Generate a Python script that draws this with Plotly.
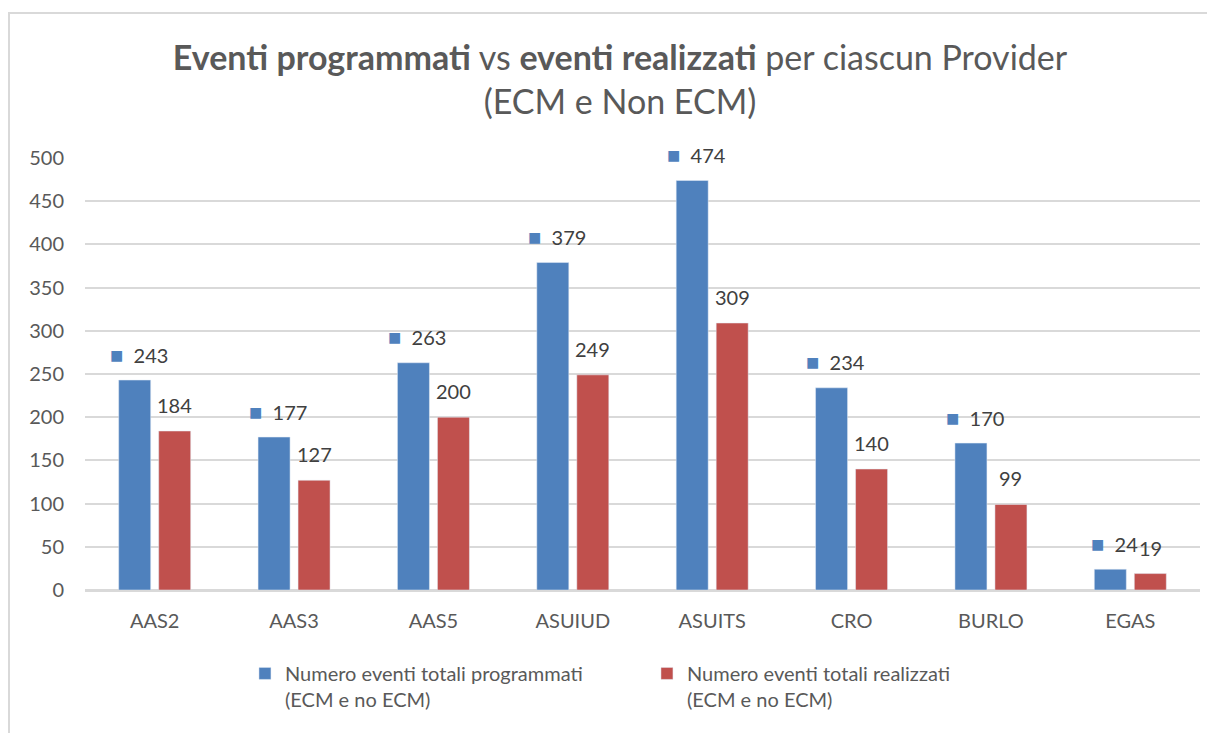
import plotly.graph_objects as go

categories = ["AAS2", "AAS3", "AAS5", "ASUIUD", "ASUITS", "CRO", "BURLO", "EGAS"]
programmati = [243, 177, 263, 379, 474, 234, 170, 24]
realizzati = [184, 127, 200, 249, 309, 140, 99, 19]
y_ticks = [0, 50, 100, 150, 200, 250, 300, 350, 400, 450, 500]

name_prog = "Numero eventi totali programmati<br>(ECM e no ECM)"
name_real = "Numero eventi totali realizzati<br>(ECM e no ECM)"
title_text = ("<b>Eventi programmati</b> vs <b>eventi realizzati</b> per ciascun Provider"
              "<br>(ECM e Non ECM)")

BLUE = "#4F81BD"
RED = "#C0504D"
FONT = "Lato"

# page offset of the figure (body margin) and desired page geometry
OFF = 8
L, R, T, B = 85 - OFF, 1215 - (1200 - OFF), 158 - OFF, 733 - (590 - OFF)
PW, PH = 1215 - L - R, 733 - T - B

fig = go.Figure()
fig.add_trace(go.Bar(x=categories, y=programmati, name=name_prog, marker_color=BLUE))
fig.add_trace(go.Bar(x=categories, y=realizzati, name=name_real, marker_color=RED))

# data labels
for c, v in zip(categories, programmati):
    fig.add_annotation(
        x=c, y=v, xref="x", yref="y", showarrow=False,
        text=f"<span style='color:{BLUE};font-size:22px'>■</span>&nbsp;&nbsp;{v}",
        font=dict(family=FONT, size=20, color="#404040"),
        xshift=-20 + 4, yshift=26,
    )
for c, v in zip(categories, realizzati):
    fig.add_annotation(
        x=c, y=v, xref="x", yref="y", showarrow=False,
        text=f"{v}",
        font=dict(family=FONT, size=20, color="#404040"),
        xshift=20, yshift=26,
    )

# outer chart border (cropped at right/bottom)
fig.add_shape(type="rect", xref="paper", yref="paper",
              x0=(9 - OFF - L) / PW, x1=1.2, y0=-0.5, y1=(733 - B - (13 - OFF)) / PH,
              line=dict(color="#D9D9D9", width=2), fillcolor="rgba(0,0,0,0)", layer="below")

fig.update_layout(
    width=1215, height=733,
    margin=dict(l=L, r=R, t=T, b=B),
    paper_bgcolor="white", plot_bgcolor="white",
    font=dict(family=FONT, size=20, color="#595959"),
    barmode="group", bargap=0.426, bargroupgap=0.2,
    title=dict(text=title_text, x=(620 - OFF - L) / PW, xref="paper", xanchor="center",
               y=1 - 62 / 733, yref="container", yanchor="top",
               font=dict(family=FONT, size=34, color="#595959")),
    showlegend=True,
    legend=dict(orientation="h", x=0.504, xanchor="center", y=-0.148, yanchor="top",
                valign="top", entrywidth=357, font=dict(family=FONT, size=20, color="#595959"),
                traceorder="normal"),
    xaxis=dict(showgrid=False, ticks="", ticklabelstandoff=17, showline=False),
    yaxis=dict(range=[0, 500], tickvals=y_ticks, showgrid=True, gridcolor="#D9D9D9",
               gridwidth=2, zeroline=True, zerolinecolor="#D9D9D9", zerolinewidth=2.5,
               ticks="", ticklabelstandoff=20, showline=False),
)

fig.write_html("out.html")
